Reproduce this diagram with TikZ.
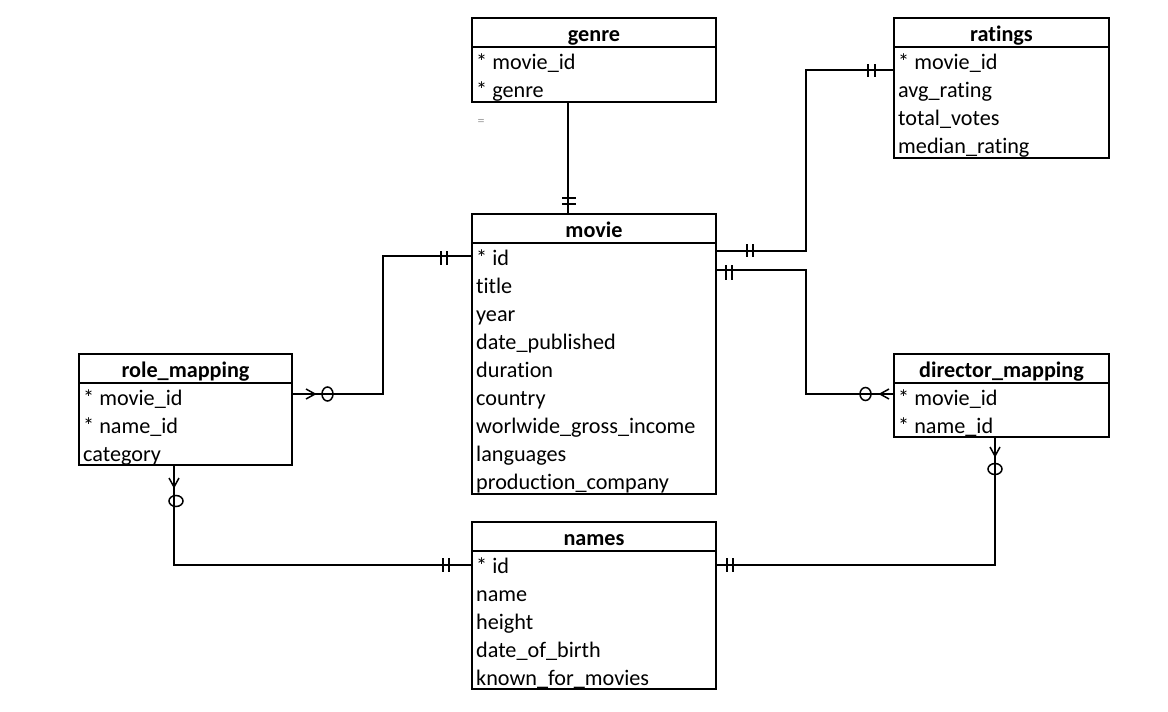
\documentclass[tikz,border=0pt]{standalone}
\usepackage{fontspec}
\setmainfont{Carlito}[Ligatures=NoCommon]
\begin{document}
\begin{tikzpicture}[x=1pt,y=-1pt,
  tbl/.style={draw, line width=2.4pt, rectangle, inner sep=0pt, outer sep=0pt, anchor=north west},
  divl/.style={line width=2.2pt},
  conn/.style={line width=2.4pt},
  mk/.style={line width=1.5pt},
  ttl/.style={font=\fontsize{22.2}{26}\selectfont\bfseries, anchor=base, inner sep=0pt},
  fld/.style={font=\fontsize{22.2}{26}\selectfont, anchor=base west, inner sep=0pt},
]
\useasboundingbox[fill=white] (0,0) rectangle (1168,712);

% ---------- tables ----------
% genre
\node[tbl, minimum width=244pt, minimum height=84pt] (genre) at (472,18) {};
\draw[divl] ([yshift=-29pt]genre.north west) -- ([yshift=-29pt]genre.north east);
\node[ttl] (genreT) at (594,41) {genre};
\node[fld] (genre1) at (476,69) {* movie\_id};
\node[fld] (genre2) at (476,97) {* genre};
\node[font=\fontsize{14}{16}\selectfont, text=gray!75, inner sep=0pt] (eq) at (481,122) {=};

% ratings
\node[tbl, minimum width=215pt, minimum height=140pt] (ratings) at (894,18) {};
\draw[divl] ([yshift=-29pt]ratings.north west) -- ([yshift=-29pt]ratings.north east);
\node[ttl] (ratingsT) at (1001.5,41) {ratings};
\node[fld] (ratings1) at (898,69) {* movie\_id};
\node[fld] (ratings2) at (898,97) {avg\_rating};
\node[fld] (ratings3) at (898,125) {total\_votes};
\node[fld] (ratings4) at (898,153) {median\_rating};

% movie
\node[tbl, minimum width=244pt, minimum height=280pt] (movie) at (472,214) {};
\draw[divl] ([yshift=-29pt]movie.north west) -- ([yshift=-29pt]movie.north east);
\node[ttl] (movieT) at (594,237) {movie};
\node[fld] (movie1) at (476,265) {* id};
\node[fld] (movie2) at (476,293) {title};
\node[fld] (movie3) at (476,321) {year};
\node[fld] (movie4) at (476,349) {date\_published};
\node[fld] (movie5) at (476,377) {duration};
\node[fld] (movie6) at (476,405) {country};
\node[fld] (movie7) at (476,433) {worlwide\_gross\_income};
\node[fld] (movie8) at (476,461) {languages};
\node[fld] (movie9) at (476,489) {production\_company};

% role_mapping
\node[tbl, minimum width=213pt, minimum height=111pt] (role) at (79,354) {};
\draw[divl] ([yshift=-29pt]role.north west) -- ([yshift=-29pt]role.north east);
\node[ttl] (roleT) at (185.5,377) {role\_mapping};
\node[fld] (role1) at (83,405) {* movie\_id};
\node[fld] (role2) at (83,433) {* name\_id};
\node[fld] (role3) at (83,461) {category};

% director_mapping
\node[tbl, minimum width=215pt, minimum height=83pt] (director) at (894,354) {};
\draw[divl] ([yshift=-29pt]director.north west) -- ([yshift=-29pt]director.north east);
\node[ttl] (directorT) at (1001.5,377) {director\_mapping};
\node[fld] (director1) at (898,405) {* movie\_id};
\node[fld] (director2) at (898,433) {* name\_id};

% names
\node[tbl, minimum width=244pt, minimum height=167pt] (names) at (472,522) {};
\draw[divl] ([yshift=-29pt]names.north west) -- ([yshift=-29pt]names.north east);
\node[ttl] (namesT) at (594,545) {names};
\node[fld] (names1) at (476,573) {* id};
\node[fld] (names2) at (476,601) {name};
\node[fld] (names3) at (476,629) {height};
\node[fld] (names4) at (476,657) {date\_of\_birth};
\node[fld] (names5) at (476,685) {known\_for\_movies};

% ---------- guide coordinates ----------
\coordinate (cg) at (568,0);
\coordinate (mr2) at (806,0);
\coordinate (rv) at (383,0);
\coordinate (rx) at (174,0);
\coordinate (dx) at (995,0);
\coordinate (yr) at (0,70);
\coordinate (ym1) at (0,251);
\coordinate (ym2) at (0,270);
\coordinate (ymi) at (0,256);
\coordinate (yd) at (0,394);
\coordinate (yn) at (0,565);

% ---------- connectors ----------
\draw[conn] (genre.south -| cg) -- (movie.north -| cg);
\draw[conn] (movie.east |- ym1) -| (mr2 |- yr) -- (ratings.west |- yr);
\draw[conn] (movie.east |- ym2) -| (mr2 |- yd) -- (director.west |- yd);
\draw[conn] (role.east |- yd) -| (rv |- ymi) -- (movie.west |- ymi);
\draw[conn] (role.south -| rx) |- (names.west |- yn);
\draw[conn] (director.south -| dx) |- (names.east |- yn);

% ---------- cardinality marks ----------
% genre - movie
\draw[mk] (562,198) -- (576,198) (562,204) -- (576,204);
% ratings - movie
\draw[mk] (868,64) -- (868,77) (875,64) -- (875,77);
\draw[mk] (747,244) -- (747,257) (753,244) -- (753,257);
% movie - director
\draw[mk] (726,265) -- (726,280) (732,265) -- (732,280);
\draw[mk] (865.5,394) ellipse [x radius=5.5pt, y radius=6.5pt];
\draw[mk] (889,389) -- (880,394) -- (889,399);
% role - movie
\draw[mk] (441,251) -- (441,265) (447,251) -- (447,265);
\draw[mk] (327.5,394) ellipse [x radius=5.5pt, y radius=7pt];
\draw[mk] (306,389) -- (315,394) -- (306,399);
% role - names
\draw[mk] (169,478) -- (174,487) -- (179,478);
\draw[mk] (176,501) ellipse [x radius=7pt, y radius=5.5pt];
\draw[mk] (443,558) -- (443,572) (449,558) -- (449,572);
% director - names
\draw[mk] (990,447) -- (995,456) -- (1000,447);
\draw[mk] (995,469) ellipse [x radius=7pt, y radius=5.5pt];
\draw[mk] (727,558) -- (727,572) (733,558) -- (733,572);
\end{tikzpicture}
\end{document}
